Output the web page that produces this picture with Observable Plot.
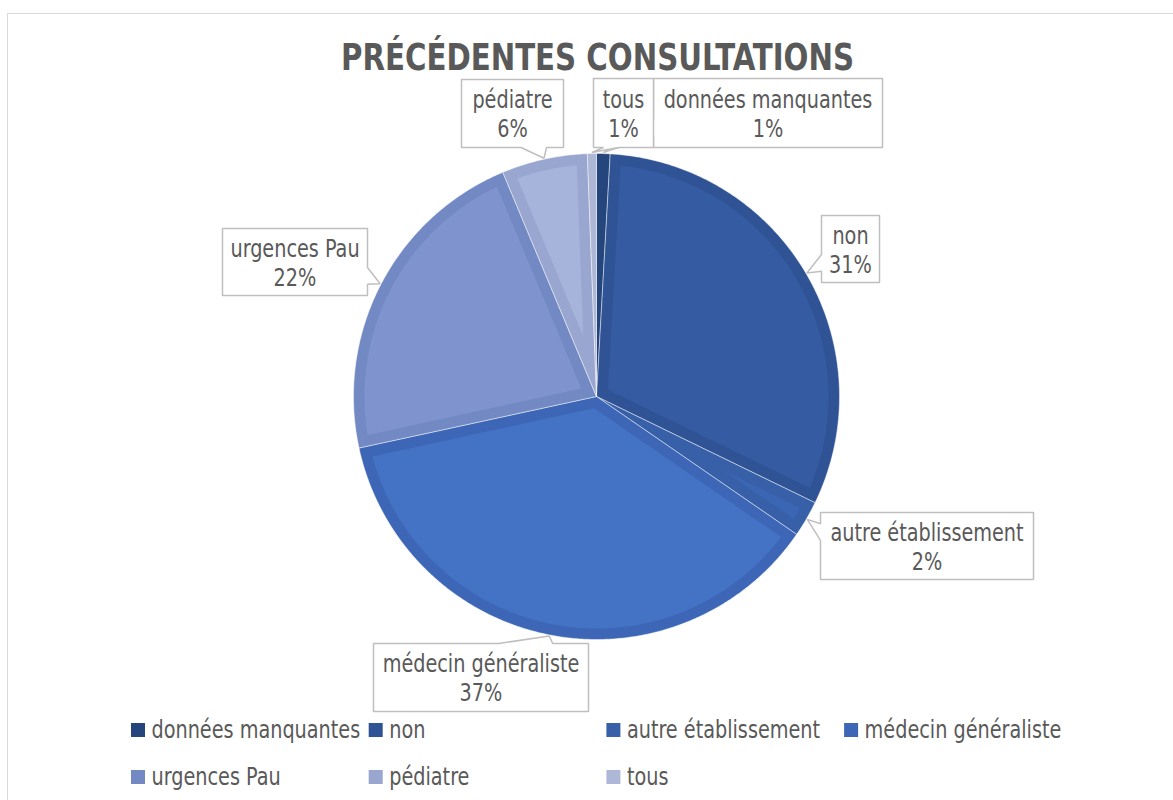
<!DOCTYPE html>
<html><head><meta charset="utf-8">
<script src="https://cdn.jsdelivr.net/npm/d3@7"></script>
<script src="https://cdn.jsdelivr.net/npm/@observablehq/plot@0.6"></script>
<style>
body{margin:0;background:#fff;}
#wrap{position:relative;width:1173px;height:800px;overflow:hidden;background:#fff;}
#border{position:absolute;left:7px;top:13px;width:1220px;height:900px;border:1.5px solid #d9d9d9;box-sizing:border-box;pointer-events:none;}
</style></head><body>
<div id="wrap"><div id="chart"></div><div id="border"></div></div>
<script>
// ---- data ----
const title = "PRÉCÉDENTES CONSULTATIONS";
const categories = ["données manquantes","non","autre établissement","médecin généraliste","urgences Pau","pédiatre","tous"];
const values = [0.9, 31.3, 2.4, 37.0, 22.1, 5.7, 0.6];
const bandColors  = ["#25457d","#2f5394","#3760a8","#3d67b6","#7389c4","#98a6d0","#aeb7d5"];
const innerColors = ["#2a4d8a","#355ba2","#3b66b3","#4472c4","#7f94ce","#a6b3db","#b4bdda"];

// ---- layout (annotation boxes: x0,y0,x1,y1) ----
const labelBoxes = [
  [653, 78, 882, 147],
  [821, 215, 879, 282],
  [820, 512, 1033, 579],
  [373, 643, 588, 711],
  [222, 228, 367, 295],
  [461, 79, 563, 147],
  [593, 78, 653, 147]
];
const cx = 596, cy = 396, R = 243, bevel = 11;
const font = "'DejaVu Sans Condensed','DejaVu Sans',sans-serif";
const textColor = "#595959";
const squeeze = 0.856;

const total = d3.sum(values);
const pt = (a, r) => [cx + r * Math.sin(a), cy - r * Math.cos(a)];

// slice polygons
const outerRows = [], innerRows = [];
let cum = 0;
const mids = [];
values.forEach((v, i) => {
  const a0 = cum / total * 2 * Math.PI, a1 = (cum + v) / total * 2 * Math.PI;
  cum += v;
  mids.push((a0 + a1) / 2);
  const n = Math.max(2, Math.ceil((a1 - a0) / (Math.PI / 360)));
  const outer = [[cx, cy]];
  for (let k = 0; k <= n; k++) outer.push(pt(a0 + (a1 - a0) * k / n, R));
  outer.push([cx, cy]);
  outer.forEach(([x, y]) => outerRows.push({key: i, x, y, fill: bandColors[i]}));
  const h = (a1 - a0) / 2, Ri = R - bevel;
  if (h < Math.PI / 2 && Math.asin(bevel / Ri) < h * 0.98) {
    const D = bevel / Math.sin(h);
    const s0 = a0 + Math.asin(bevel / Ri), s1 = a1 - Math.asin(bevel / Ri);
    const inner = [pt((a0 + a1) / 2, D)];
    const m = Math.max(2, Math.ceil((s1 - s0) / (Math.PI / 360)));
    for (let k = 0; k <= m; k++) inner.push(pt(s0 + (s1 - s0) * k / m, Ri));
    inner.forEach(([x, y]) => innerRows.push({key: i, x, y, fill: innerColors[i]}));
  }
});

// callout polygons (wedge rectangle callout)
const calloutRows = [], labelRows = [];
labelBoxes.forEach((b, i) => {
  const [x0, y0, x1, y1] = b;
  const w = x1 - x0, hgt = y1 - y0, bx = (x0 + x1) / 2, by = (y0 + y1) / 2;
  const [tx, ty] = pt(mids[i], R + 1);
  const dx = (tx - bx) / w, dy = (ty - by) / hgt;
  const side = Math.abs(dy) > Math.abs(dx) ? (dy > 0 ? "bottom" : "top") : (dx > 0 ? "right" : "left");
  const xa = dx > 0 ? x0 + w * 7 / 12 : x0 + w * 2 / 12, xb = dx > 0 ? x0 + w * 10 / 12 : x0 + w * 5 / 12;
  const ya = dy > 0 ? y0 + hgt * 7 / 12 : y0 + hgt * 2 / 12, yb = dy > 0 ? y0 + hgt * 10 / 12 : y0 + hgt * 5 / 12;
  const P = [[x0, y0]];
  if (side === "top") P.push([xa, y0], [tx, ty], [xb, y0]);
  P.push([x1, y0]);
  if (side === "right") P.push([x1, ya], [tx, ty], [x1, yb]);
  P.push([x1, y1]);
  if (side === "bottom") P.push([xb, y1], [tx, ty], [xa, y1]);
  P.push([x0, y1]);
  if (side === "left") P.push([x0, yb], [tx, ty], [x0, ya]);
  P.push([x0, y0]);
  P.forEach(([x, y]) => calloutRows.push({key: i, x, y}));
  labelRows.push({x: bx, y: by, text: `${categories[i]}\n${Math.round(values[i] / total * 100)}%`});
});

// legend
const legendRows = categories.map((c, i) => {
  const col = i % 4, row = Math.floor(i / 4);
  const x = 131 + col * 237.7, base = 737 + row * 47;
  return {name: c, x1: x, x2: x + 14, y1: base - 14, y2: base, tx: x + 20, ty: base - 8, fill: bandColors[i]};
});

const chart = Plot.plot({
  width: 1173, height: 800, margin: 0,
  x: {type: "identity", axis: null}, y: {type: "identity", axis: null},
  color: {type: "identity"},
  style: {background: "transparent", overflow: "visible"},
  marks: [
    Plot.line(outerRows, {x: "x", y: "y", z: "key", fill: "fill", stroke: "#ffffff", strokeOpacity: 0.45, strokeWidth: 1, curve: "linear"}),
    Plot.line(innerRows, {x: "x", y: "y", z: "key", fill: "fill", stroke: "none", curve: "linear"}),
    Plot.line(calloutRows, {x: "x", y: "y", z: "key", fill: "#ffffff", stroke: "#bfbfbf", strokeWidth: 1.5, strokeLinejoin: "miter", curve: "linear"}),
    Plot.text(labelRows, {x: "x", y: "y", text: "text", fontSize: 25, lineHeight: 1.16, fill: textColor, fontFamily: font, textAnchor: "middle"}),
    Plot.text([title], {x: () => 597, y: () => 57.5, text: d => d, fontSize: 38, fontWeight: "bold", fill: textColor, fontFamily: font, textAnchor: "middle"}),
    Plot.rect(legendRows, {x1: "x1", x2: "x2", y1: "y1", y2: "y2", fill: "fill"}),
    Plot.text(legendRows, {x: "tx", y: "ty", text: "name", fontSize: 25, fill: textColor, fontFamily: font, textAnchor: "start"})
  ]
});
// horizontally condense the glyphs (Calibri-like proportions) around each text's anchor
d3.select(chart).selectAll("text").each(function () {
  const x = +this.getAttribute("x") || 0, y = +this.getAttribute("y") || 0;
  const t = this.getAttribute("transform") || "";
  this.setAttribute("transform", `${t} translate(${x},${y}) scale(${squeeze},1) translate(${-x},${-y})`);
});
document.getElementById("chart").append(chart);
</script>
</body></html>
